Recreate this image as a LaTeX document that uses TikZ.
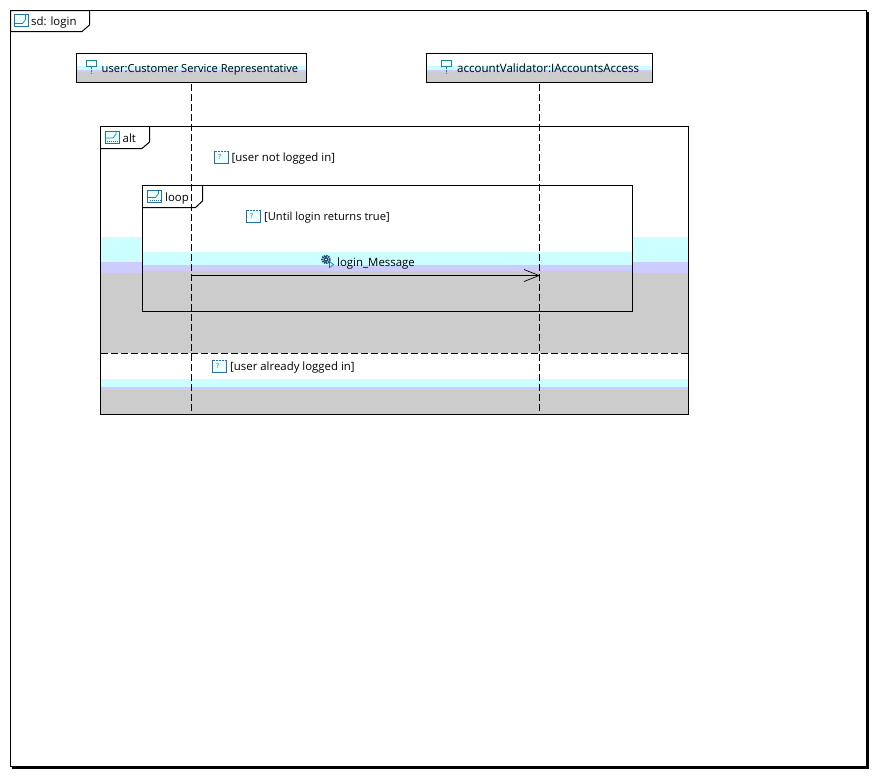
\documentclass[tikz,border=0pt]{standalone}
\usepackage{fontspec}
\setmainfont{Open Sans}
\usetikzlibrary{positioning,arrows.meta}
\definecolor{bandcyan}{RGB}{204,255,255}
\definecolor{bandlav}{RGB}{204,204,255}
\definecolor{bandgray}{RGB}{204,204,204}
\definecolor{iconblue}{RGB}{40,110,170}
\definecolor{iconteal}{RGB}{20,140,150}
\tikzset{
x=1pt, y=-1pt, % one unit is one pixel of the reference, y runs down
every node/.style={font=\fontsize{11.4}{12}\selectfont},
framebox/.style={draw, line width=1pt, anchor=north west, inner sep=0pt, outer sep=0pt}, % the box round a frame
headbox/.style={draw, line width=1pt, anchor=north west, inner sep=0pt, outer sep=0pt}, % the head of a lifeline
tag/.style={anchor=base west, inner sep=0pt}, % every text label
lifeline/.style={line width=1pt, dash pattern=on 7pt off 3pt},
split/.style={line width=1pt, dash pattern=on 7pt off 3pt},
message/.style={line width=.8pt, -{Straight Barb[length=15pt,width=12pt,line width=.7pt]}},
framemark/.pic={
  \draw[iconblue, line width=.8pt, fill=bandcyan!35] (0,0) rectangle (14,12);
  \draw[iconteal, line width=.7pt] (0,9) -- (8,9) -- (11,5) -- (11,0);
},
altmark/.pic={
  \draw[iconblue, line width=.8pt, fill=bandcyan!35] (0,0) rectangle (14,12);
  \draw[iconteal, line width=.7pt] (0,7) -- (8,7) -- (11,3) -- (11,0);
  \draw[iconblue, line width=1pt, dash pattern=on 1pt off 1pt] (2,10) -- (13,10);
},
guardmark/.pic={
  \fill[bandcyan!35] (0,0) rectangle (14,12);
  \draw[iconblue, line width=.8pt] (0,0) -- (0,12) -- (14,12) -- (14,0);
  \draw[iconblue, line width=.8pt, dash pattern=on 2pt off 1pt] (0,0) -- (14,0);
  \node[iconblue, inner sep=0pt, font=\fontsize{7}{7}\selectfont] (qmark) at (5,6) {?};
},
lifemark/.pic={
  \draw[iconteal, line width=.9pt] (0,0) rectangle (10,6);
  \draw[iconblue, line width=.9pt, dash pattern=on 2pt off 1pt] (5,6) -- (5,13);
},
gearmark/.pic={
  \draw[iconblue!70!black, line width=2pt, dash pattern=on 1.4pt off .8pt] (4.5,4.5) circle (3.8);
  \fill[iconblue!60!black] (4.5,4.5) circle (2.4);
  \fill[white] (4.5,4.5) circle (.8);
  \draw[iconblue, line width=.7pt, fill=bandcyan] (8,6.5) -- (12,9.5) -- (8,12.5) -- cycle;
},
}
\begin{document}
\begin{tikzpicture}
\useasboundingbox (0,0) rectangle (877,777);
% outer frame with its shadow
\node[framebox, minimum width=856pt, minimum height=756pt] (sd) at (10.5,10.5) {};
\draw[line width=2.5pt] (867.7,12) -- (867.7,767.7) -- (12,767.7);
\draw[line width=1pt, fill=white] (10.5,10.5) -- (89.5,10.5) -- (89.5,25) -- (82,31.5) -- (10.5,31.5) -- cycle;
\pic at (14.5,14.5) {framemark};
\node[tag] (sdtext) at (31,25) {sd: login};

% bands of the alt frame
\fill[bandcyan] (100.5,237) rectangle (688.5,262);
\fill[bandlav] (100.5,262) rectangle (688.5,273);
\fill[bandgray] (100.5,273) rectangle (688.5,353);
\fill[bandcyan] (100.5,379) rectangle (688.5,387);
\fill[bandlav] (100.5,387) rectangle (688.5,390);
\fill[bandgray] (100.5,390) rectangle (688.5,414);
\node[framebox, minimum width=588pt, minimum height=287.5pt] (alt) at (100.5,126.5) {};
\draw[line width=1pt] (100.5,148.5) -- (142,148.5) -- (149.5,142) -- (149.5,126.5);
\pic at (105,131) {altmark};
\node[tag] (alttext) at (122.5,142) {alt};
\pic at (214.5,151) {guardmark};
\node[tag] (guard1) at (231.5,161) {[user not logged in]};

% bands of the loop frame
\fill[white] (142.5,185.5) rectangle (632.5,252);
\fill[bandcyan] (142.5,252) rectangle (632.5,265);
\fill[bandlav] (142.5,265) rectangle (632.5,271);
\fill[bandgray] (142.5,271) rectangle (632.5,311.5);
\node[framebox, minimum width=490pt, minimum height=126pt] (loop) at (142.5,185.5) {};
\draw[line width=1pt] (142.5,207.5) -- (195.5,207.5) -- (202.5,201) -- (202.5,185.5);
\pic at (147.5,190.5) {altmark};
\node[tag] (looptext) at (165,201) {loop};
\pic at (246.5,210) {guardmark};
\node[tag, font=\fontsize{11.15}{12}\selectfont] (guard2) at (264,220) {[Until login returns true]};

% second operand
\coordinate (splitl) at (100.5,353.5);
\coordinate (splitr) at (688.5,353.5);
\draw[split] (splitl) -- (splitr);
\pic at (212.5,360) {guardmark};
\node[tag] (guard3) at (230,370) {[user already logged in]};

% lifeline heads
\fill[bandcyan] (77,66) rectangle (306,69.5);
\fill[bandlav] (77,69.5) rectangle (306,72);
\fill[bandgray] (77,72) rectangle (306,82);
\node[headbox, minimum width=230pt, minimum height=29pt] (user) at (76.5,53.5) {};
\fill[bandcyan] (427,66) rectangle (652,69.5);
\fill[bandlav] (427,69.5) rectangle (652,72);
\fill[bandgray] (427,72) rectangle (652,82);
\node[headbox, minimum width=226pt, minimum height=29pt] (validator) at (426.5,53.5) {};
\pic at (86.5,60.5) {lifemark};
\node[tag, font=\fontsize{11.1}{12}\selectfont] (usertext) at (101.5,72) {user:Customer Service Representative};
\pic at (441.5,60.5) {lifemark};
\node[tag, font=\fontsize{11.55}{12}\selectfont] (validatortext) at (457,72) {accountValidator:IAccountsAccess};

% lifelines and the message
\coordinate (userend) at (191.5,412);
\coordinate (validatorend) at (539.5,412);
\coordinate (msgfrom) at (191.5,275.5);
\coordinate (msgto) at (540,275.5);
\draw[lifeline] ([yshift=-1.5pt]user.south -| userend) -- (userend);
\draw[lifeline] ([yshift=-1.5pt]validator.south -| validatorend) -- (validatorend);
\draw[message] (msgfrom) -- (msgto);
\pic at (321.5,255) {gearmark};
\node[tag] (msgtext) at (337,266) {login\_Message};
\end{tikzpicture}
\end{document}
